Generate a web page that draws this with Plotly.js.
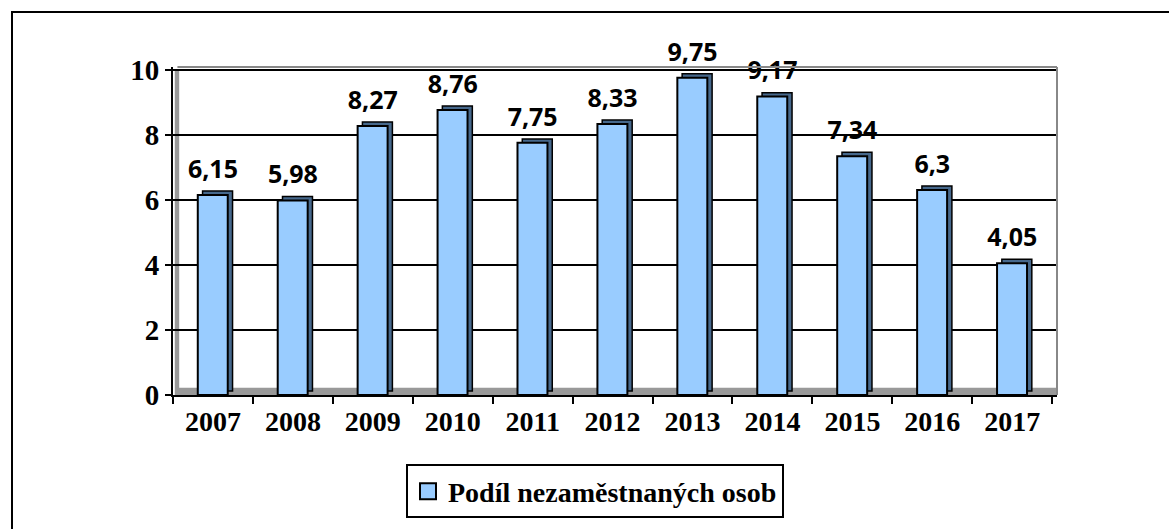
<!DOCTYPE html>
<html>
<head>
<meta charset="utf-8">
<script src="https://cdn.plot.ly/plotly-3.0.1.min.js"></script>
<style>
  html, body { margin: 0; padding: 0; width: 1169px; height: 529px; overflow: hidden; background: #fff; }
  #frame { position: absolute; left: 11px; top: 11px; width: 1300px; height: 700px; border: 2px solid #000; box-sizing: border-box; }
  #chart { position: absolute; left: 0; top: 0; width: 1169px; height: 529px; }
</style>
</head>
<body>
<div id="frame"></div>
<div id="chart"></div>
<script>
const years = ['2007','2008','2009','2010','2011','2012','2013','2014','2015','2016','2017'];
const values = [6.15, 5.98, 8.27, 8.76, 7.75, 8.33, 9.75, 9.17, 7.34, 6.3, 4.05];
const seriesName = 'Podíl nezaměstnaných osob';
const yTicks = [0, 2, 4, 6, 8, 10];

const labels = values.map(v => String(v).replace('.', ','));
const depth = 0.12;
const serif = '"Liberation Serif", "Times New Roman", serif';

const shadow = {
  type: 'bar', x: years, y: values, base: depth,
  width: 0.375, offset: -0.13,
  marker: { color: '#46688c', line: { color: '#000', width: 1.5 } },
  showlegend: false, hoverinfo: 'skip'
};
const front = {
  type: 'bar', x: years, y: values, name: seriesName,
  width: 0.375, offset: -0.19,
  marker: { color: '#99ccff', line: { color: '#000', width: 2 } },
  showlegend: false
};
const valueLabels = {
  type: 'scatter', mode: 'markers+text', x: years, y: values,
  text: labels, textposition: 'top center', cliponaxis: false,
  marker: { size: 16, color: 'rgba(0,0,0,0)', line: { width: 0 } },
  textfont: { family: '"Open Sans", Lato, sans-serif', size: 25, color: '#000', weight: 'bold' },
  showlegend: false, hoverinfo: 'skip'
};
const legendItem = {
  type: 'scatter', mode: 'markers', x: [years[0]], y: [null], name: seriesName,
  marker: { symbol: 'square', size: 16, color: '#99ccff', line: { color: '#000', width: 2 } },
  showlegend: true
};

const layout = {
  width: 1169, height: 529,
  margin: { l: 173, r: 112, t: 67, b: 134 },
  paper_bgcolor: 'rgba(0,0,0,0)', plot_bgcolor: '#fff',
  barmode: 'overlay',
  showlegend: true,
  legend: {
    xref: 'container', yref: 'container', x: 0.509, y: 0.122, xanchor: 'center', yanchor: 'top',
    orientation: 'h', bordercolor: '#000', borderwidth: 2, bgcolor: '#fff',
    itemwidth: 30,
    font: { family: serif, size: 28, color: '#000', weight: 'bold' }
  },
  xaxis: {
    type: 'category', range: [-0.5, 10.56],
    showline: true, linecolor: '#000', linewidth: 2,
    ticks: 'outside', ticklen: 7, tickwidth: 2, tickcolor: '#000', tickson: 'boundaries',
    tickfont: { family: serif, size: 28, color: '#000', weight: 'bold' },
    showgrid: false, zeroline: false
  },
  yaxis: {
    range: [0, 10.08], tickvals: yTicks,
    showline: true, linecolor: '#000', linewidth: 2,
    ticks: 'outside', ticklen: 6, tickwidth: 2, tickcolor: '#000',
    tickfont: { family: serif, size: 29, color: '#000', weight: 'bold' },
    showgrid: true, gridcolor: '#000', gridwidth: 2, zeroline: false
  },
  shapes: [
    { type: 'rect', xref: 'paper', yref: 'y', x0: 0.003, x1: 1, y0: 0, y1: 0.22, fillcolor: '#999', line: { width: 0 }, layer: 'below' },
    { type: 'rect', xref: 'paper', yref: 'y', x0: 0.002, x1: 0.007, y0: 0, y1: 10, fillcolor: '#999', line: { width: 0 }, layer: 'below' },
    { type: 'line', xref: 'paper', yref: 'paper', x0: 0.005, x1: 1, y0: 1, y1: 1, line: { color: '#888', width: 2 } },
    { type: 'line', xref: 'paper', yref: 'paper', x0: 1, x1: 1, y0: 0, y1: 1, line: { color: '#888', width: 2 } }
  ]
};

Plotly.newPlot('chart', [shadow, front, valueLabels, legendItem], layout, { displayModeBar: false, staticPlot: true });
</script>
</body>
</html>
